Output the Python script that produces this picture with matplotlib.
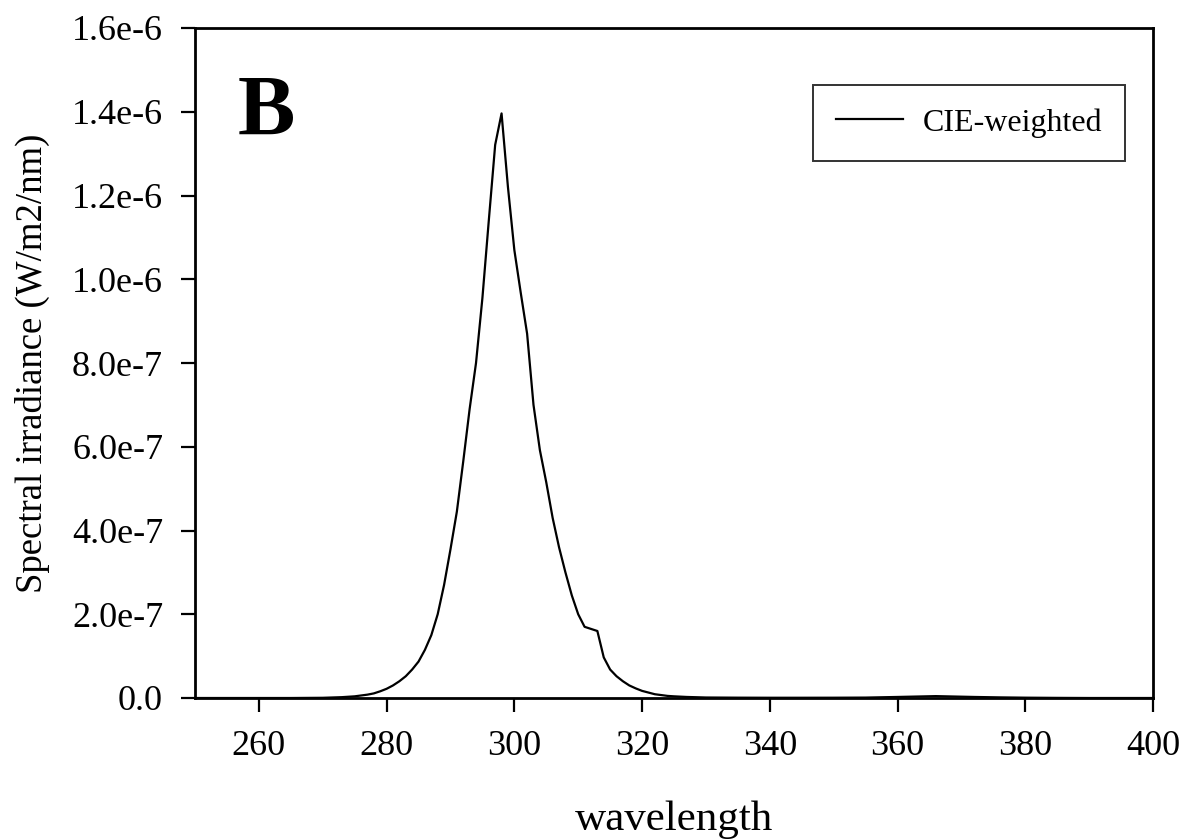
import matplotlib
matplotlib.use("Agg")
import matplotlib.pyplot as plt
import numpy as np

# wavelength (nm) and CIE-weighted spectral irradiance (W/m2/nm)
wavelength = [250, 255, 260, 265, 268, 270, 271, 272, 273, 274, 275, 276, 277, 278, 279,
              280, 281, 282, 283, 284, 285, 286, 287, 288, 289,
              290, 291, 292, 293, 294, 295, 296, 297, 298, 299,
              300, 301, 302, 303, 304, 305, 306, 307, 308, 309,
              310, 311, 312, 313, 314, 315, 316, 317, 318, 319,
              320, 321, 322, 323, 324, 325, 327, 330, 335, 340,
              345, 350, 355, 360, 363, 366, 369, 372, 376, 380, 385, 390, 400]
irradiance_e7 = [0.0, 0.0, 0.0, 0.0, 0.0003, 0.0005, 0.001, 0.0015, 0.002, 0.003, 0.004, 0.006, 0.008, 0.011, 0.016,
                 0.022, 0.030, 0.040, 0.052, 0.068, 0.087, 0.115, 0.150, 0.200, 0.270,
                 0.355, 0.445, 0.565, 0.690, 0.800, 0.955, 1.140, 1.321, 1.396, 1.220,
                 1.070, 0.968, 0.870, 0.700, 0.592, 0.515, 0.430, 0.360, 0.300, 0.245,
                 0.200, 0.170, 0.165, 0.160, 0.097, 0.068, 0.052, 0.040, 0.030, 0.023,
                 0.017, 0.013, 0.009, 0.007, 0.005, 0.004, 0.0025, 0.0012, 0.0008, 0.0006,
                 0.0006, 0.0007, 0.0010, 0.0025, 0.0035, 0.0045, 0.0035, 0.0025, 0.0015, 0.0008, 0.0003, 0.0, 0.0]
irradiance = [v * 1e-6 for v in irradiance_e7]

x_ticks = [260, 280, 300, 320, 340, 360, 380, 400]
y_ticks = [0.0, 2e-7, 4e-7, 6e-7, 8e-7, 1.0e-6, 1.2e-6, 1.4e-6, 1.6e-6]
y_tick_labels = ["0.0", "2.0e-7", "4.0e-7", "6.0e-7", "8.0e-7", "1.0e-6", "1.2e-6", "1.4e-6", "1.6e-6"]

plt.rcParams['font.family'] = ['Liberation Serif', 'DejaVu Serif']

fig = plt.figure(figsize=(11.86, 8.40), dpi=100)
ax = fig.add_axes([195/1186, 1 - 698/840, (1153-195)/1186, (698-28)/840])

ax.plot(wavelength, irradiance, color='black', linewidth=1.6, label='CIE-weighted')

ax.set_xlim(250, 400)
ax.set_ylim(0, 1.6e-6)
ax.set_xticks(x_ticks)
ax.set_xticklabels([str(t) for t in x_ticks])
ax.set_yticks(y_ticks)
ax.set_yticklabels(y_tick_labels)
ax.tick_params(axis='both', direction='out', length=10, width=1.6, labelsize=26, colors='black')
ax.tick_params(axis='y', pad=13)
ax.tick_params(axis='x', pad=13)

for s in ax.spines.values():
    s.set_linewidth(2.0)

ax.set_xlabel('wavelength', fontsize=31, labelpad=27)
ax.set_ylabel('Spectral irradiance (W/m2/nm)', fontsize=26.5, labelpad=16)

ax.text(0.044, 0.840, 'B', transform=ax.transAxes, fontsize=62, fontweight='bold',
        ha='left', va='baseline')

leg = ax.legend(loc='upper right', bbox_to_anchor=(0.9708, 0.9149), fontsize=23,
                frameon=True, fancybox=False, edgecolor='black', handlelength=2.1,
                borderpad=0.72, handletextpad=0.6, borderaxespad=0)
leg.get_frame().set_linewidth(1.4)

fig.savefig('out.png', dpi=100)
